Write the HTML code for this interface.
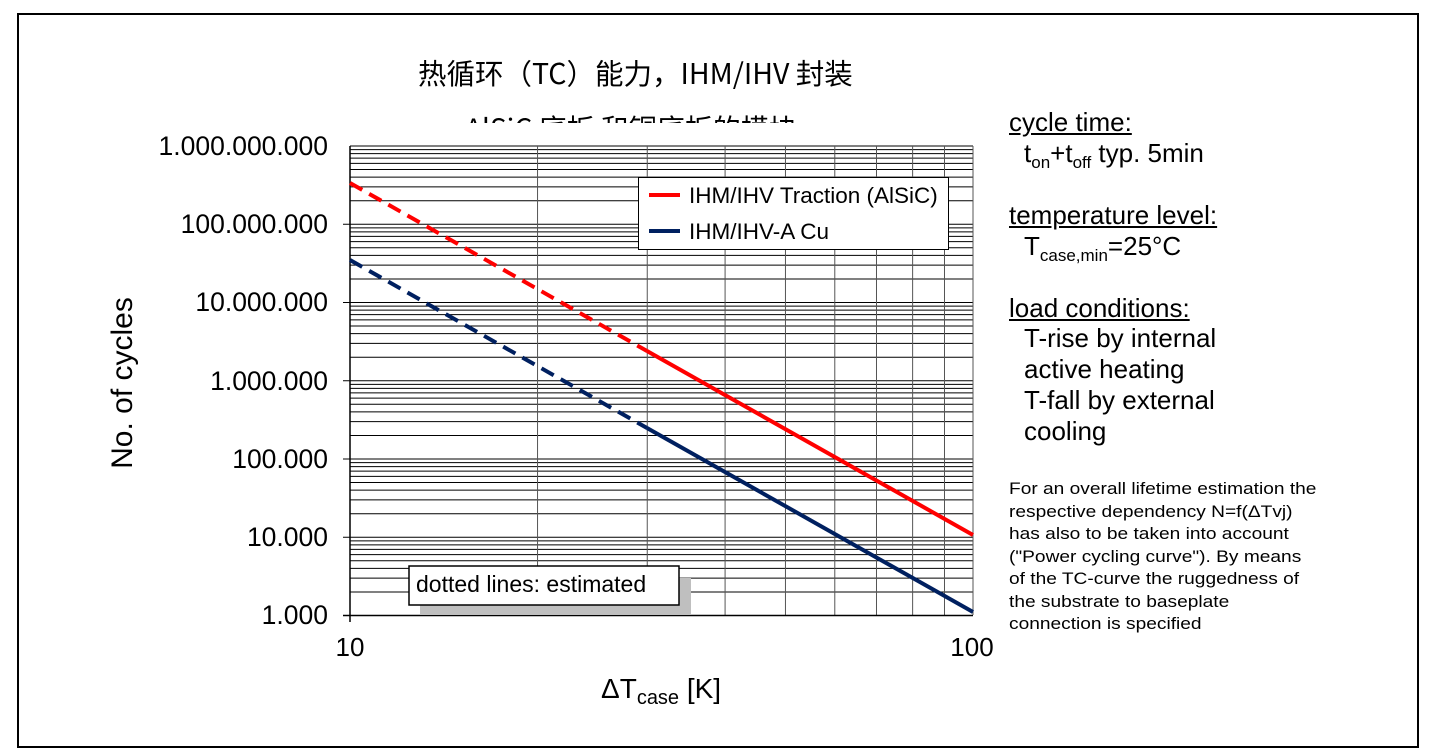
<!DOCTYPE html>
<html><head><meta charset="utf-8"><style>
html,body{margin:0;padding:0;background:#fff;}
body{width:1434px;height:753px;position:relative;overflow:hidden;font-family:"Liberation Sans","Noto Sans CJK SC",sans-serif;}
.frame{position:absolute;left:17px;top:13px;width:1398px;height:731px;border:2px solid #000;}
.t{position:absolute;white-space:nowrap;color:#000;}
</style></head><body>
<div class="frame"></div>
<div class="t" style="left:418px;top:52px;font-size:28.5px;font-family:'Noto Sans CJK SC',sans-serif;">热循环（TC）能力，IHM/IHV 封装</div>
<div style="position:absolute;left:440px;top:100px;width:420px;height:23px;overflow:hidden;">
<div class="t" style="left:25px;top:8px;font-size:28px;font-family:'Noto Sans CJK SC',sans-serif;">AlSiC 底板 和铜底板的模块</div></div>
<svg id="s" width="1434" height="753" style="position:absolute;left:0;top:0" xmlns="http://www.w3.org/2000/svg">
<g id="grid"></g>
<line x1="350" y1="146" x2="350" y2="622" stroke="#000" stroke-width="1.5"/>
<line x1="343" y1="615.5" x2="973" y2="615.5" stroke="#000" stroke-width="1.5"/>
<g font-size="26.5" text-anchor="end" font-family="Liberation Sans,sans-serif">
<text x="328" y="155">1.000.000.000</text>
<text x="328" y="233">100.000.000</text>
<text x="328" y="311">10.000.000</text>
<text x="328" y="390">1.000.000</text>
<text x="328" y="468">100.000</text>
<text x="328" y="546">10.000</text>
<text x="328" y="624">1.000</text>
</g>
<text x="350" y="656" font-size="26" text-anchor="middle">10</text>
<text x="972" y="656" font-size="26" text-anchor="middle">100</text>
<text x="601" y="698" font-size="28">ΔT<tspan font-size="20" dy="6">case</tspan><tspan dy="-6"> [K]</tspan></text>
<text transform="translate(132,383) rotate(-90)" font-size="30" text-anchor="middle">No. of cycles</text>
<line x1="350" y1="183" x2="647" y2="351" stroke="#f00" stroke-width="4" stroke-dasharray="14,8"/>
<line x1="647" y1="351" x2="973" y2="535" stroke="#f00" stroke-width="4"/>
<line x1="350" y1="260" x2="647" y2="428" stroke="#002060" stroke-width="4" stroke-dasharray="14,8"/>
<line x1="647" y1="428" x2="973" y2="612" stroke="#002060" stroke-width="4"/>
<rect x="638.5" y="177.5" width="310" height="72" fill="#fff" stroke="#000"/>
<line x1="649" y1="195" x2="680" y2="195" stroke="#f00" stroke-width="4"/>
<line x1="649" y1="231" x2="680" y2="231" stroke="#002060" stroke-width="4"/>
<text x="689" y="203" font-size="22.5">IHM/IHV Traction (AlSiC)</text>
<text x="689" y="239" font-size="22.5">IHM/IHV-A Cu</text>
<rect x="420" y="578" width="271" height="37" fill="#bfbfbf"/>
<rect x="409" y="566" width="270" height="39" fill="#fff" stroke="#000" stroke-width="1.5"/>
<text x="416" y="592" font-size="23">dotted lines: estimated</text>
</svg>
<div class="t" style="left:1009px;top:107px;font-size:26px;text-decoration:underline;">cycle time:</div>
<div class="t" style="left:1024px;top:138px;font-size:26px;">t<sub style="font-size:17px">on</sub>+t<sub style="font-size:17px">off</sub> typ. 5min</div>
<div class="t" style="left:1009px;top:200px;font-size:26px;text-decoration:underline;">temperature level:</div>
<div class="t" style="left:1024px;top:231px;font-size:26px;">T<sub style="font-size:17px">case,min</sub>=25°C</div>
<div class="t" style="left:1009px;top:293px;font-size:26px;text-decoration:underline;">load conditions:</div>
<div class="t" style="left:1024px;top:323px;font-size:26px;line-height:31px;">T-rise by internal<br>active heating<br>T-fall by external<br>cooling</div>
<div class="t" style="left:1009px;top:478px;font-size:16.5px;line-height:22.5px;transform:scaleX(1.16);transform-origin:0 0;">For an overall lifetime estimation the<br>respective dependency N=f(ΔTvj)<br>has also to be taken into account<br>("Power cycling curve"). By means<br>of the TC-curve the ruggedness of<br>the substrate to baseplate<br>connection is specified</div>
<script>
var g=document.getElementById('grid'),h='';
var x0=350,x1=973,W=623,yb=615.5,D=78.25;
for(var d=0;d<6;d++){for(var k=1;k<10;k++){var y=yb-d*D-Math.log10(k)*D;h+='<line x1="'+x0+'" y1="'+y+'" x2="'+x1+'" y2="'+y+'" stroke="#000" stroke-width="1"/>';if(k==1)h+='<line x1="343" y1="'+y+'" x2="350" y2="'+y+'" stroke="#000"/>';}}
h+='<line x1="'+x0+'" y1="146" x2="'+x1+'" y2="146" stroke="#000"/>';
for(var k=2;k<=10;k++){var x=x0+Math.log10(k)*W;h+='<line x1="'+x+'" y1="146" x2="'+x+'" y2="615" stroke="#555" stroke-width="1"/>';}
g.innerHTML=h;
</script>
</body></html>
